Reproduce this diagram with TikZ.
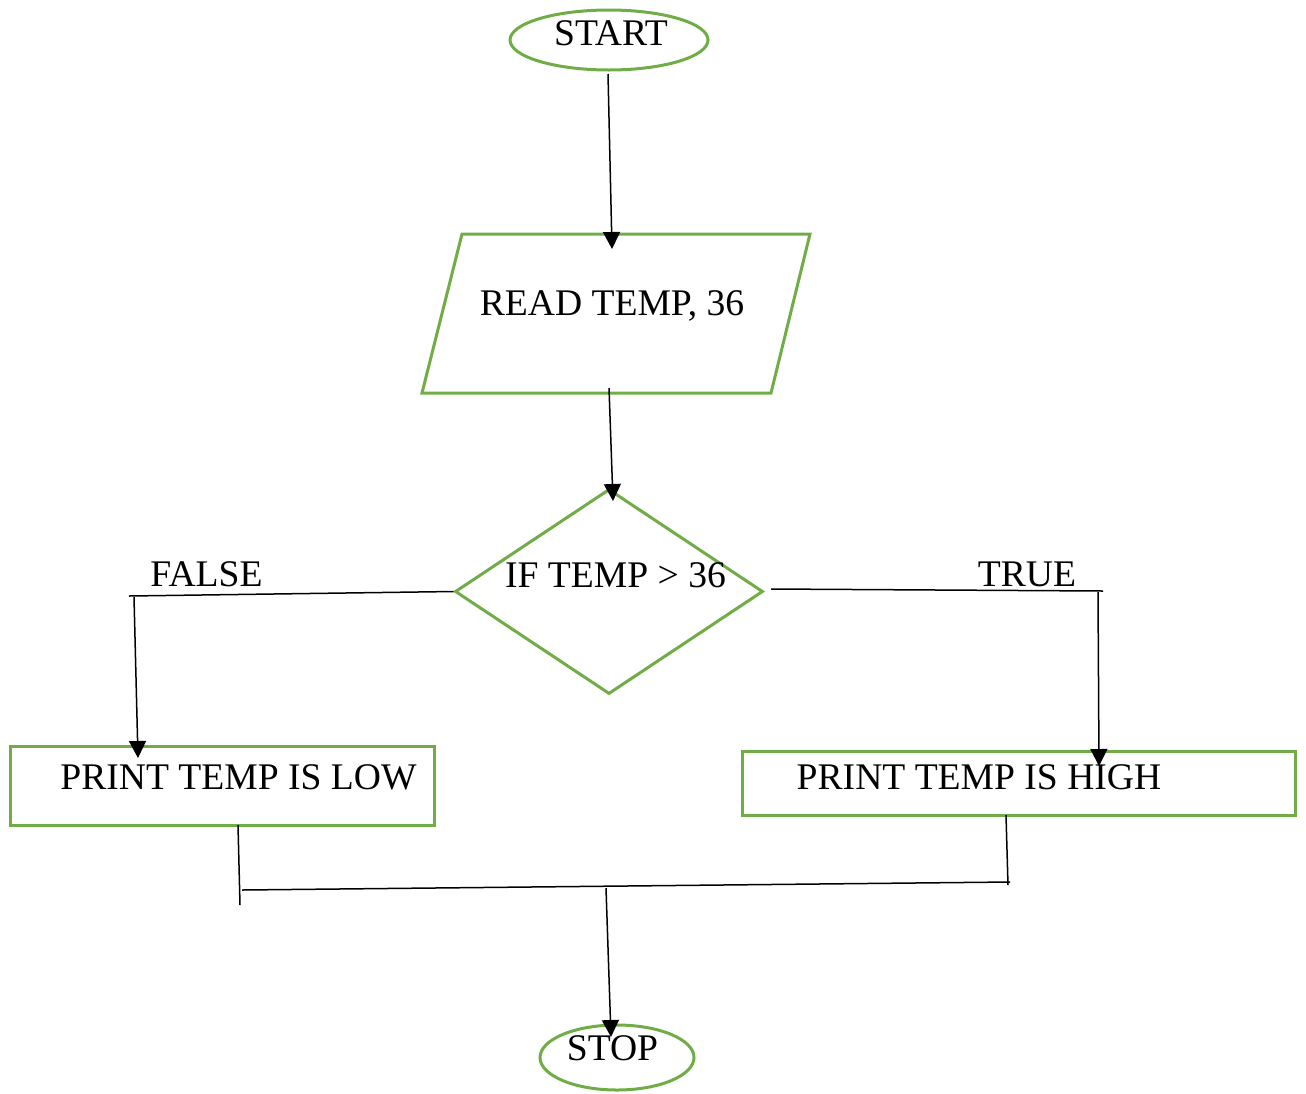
\documentclass[tikz,border=0pt]{standalone}
\usepackage{fontspec}
\setmainfont{Liberation Serif}
\usetikzlibrary{arrows.meta,shapes.geometric}
\definecolor{grn}{RGB}{112,173,71}
\begin{document}
\begin{tikzpicture}[x=0.5pt,y=-0.5pt,
  shapeline/.style={draw=grn,line width=1.5pt,inner sep=0pt},
  lbl/.style={font=\fontsize{18.8}{22}\selectfont,inner sep=0pt,anchor=base},
  conn/.style={draw=black,line width=0.75pt},
  arr/.style={conn,-{Triangle[length=8.5pt,width=8.5pt]}}]
\useasboundingbox (0,0) rectangle (1306,1093);

% shapes
\node[shapeline,ellipse,minimum width=99pt,minimum height=30pt] (start) at (609,40) {};
\coordinate (pTL) at (462,234);
\coordinate (pTR) at (810,234);
\coordinate (pBR) at (771,393);
\coordinate (pBL) at (422,393);
\draw[shapeline] (pTL) -- (pTR) -- (pBR) -- (pBL) -- cycle;
\node[shapeline,diamond,minimum width=154pt,minimum height=102.5pt] (dec) at (609,591.5) {};
\node[shapeline,rectangle,minimum width=212pt,minimum height=39.5pt] (low) at (222,785.5) {};
\node[shapeline,rectangle,minimum width=276.5pt,minimum height=32pt] (high) at (1018.5,783) {};
\node[shapeline,ellipse,minimum width=77pt,minimum height=32.5pt] (stop) at (617,1057.5) {};

% texts
\node[lbl] (tstart) at (611,45) {START};
\node[lbl] (tread) at (612,315) {READ TEMP, 36};
\node[lbl] (tif) at (615.5,587) {IF TEMP > 36};
\node[lbl] (tfalse) at (206.5,586) {FALSE};
\node[lbl] (ttrue) at (1027,586) {TRUE};
\node[lbl] (tlow) at (238.5,789) {PRINT TEMP IS LOW};
\node[lbl] (thigh) at (979,789) {PRINT TEMP IS HIGH};
\node[lbl] (tstop) at (612.5,1060) {STOP};

% connector coordinates
\coordinate (a1s) at (608,74);   \coordinate (a1e) at (612,249);
\coordinate (a2s) at (609,388);  \coordinate (a2e) at (613,501);
\coordinate (fL) at (129,596);   \coordinate (fs) at (134,597); \coordinate (fe) at (138,758);
\coordinate (tR) at (1103,591);  \coordinate (trs) at (771,589);
\coordinate (ts) at (1098,592);  \coordinate (te) at (1099,766);
\coordinate (l1) at (238,825);   \coordinate (l2) at (240,905);
\coordinate (h1) at (242,890);   \coordinate (h2) at (1010,882);
\coordinate (r1) at (1006,815);  \coordinate (r2) at (1008,885);
\coordinate (m1) at (606,888);   \coordinate (m2) at (611,1037);

% connectors
\draw[arr] (a1s) -- (a1e);
\draw[arr] (a2s) -- (a2e);
\draw[conn] (dec.west) -- (fL);
\draw[arr] (fs) -- (fe);
\draw[conn] (trs) -- (tR);
\draw[arr] (ts) -- (te);
\draw[conn] (l1) -- (l2);
\draw[conn] (h1) -- (h2);
\draw[conn] (r1) -- (r2);
\draw[arr] (m1) -- (m2);
\end{tikzpicture}
\end{document}
